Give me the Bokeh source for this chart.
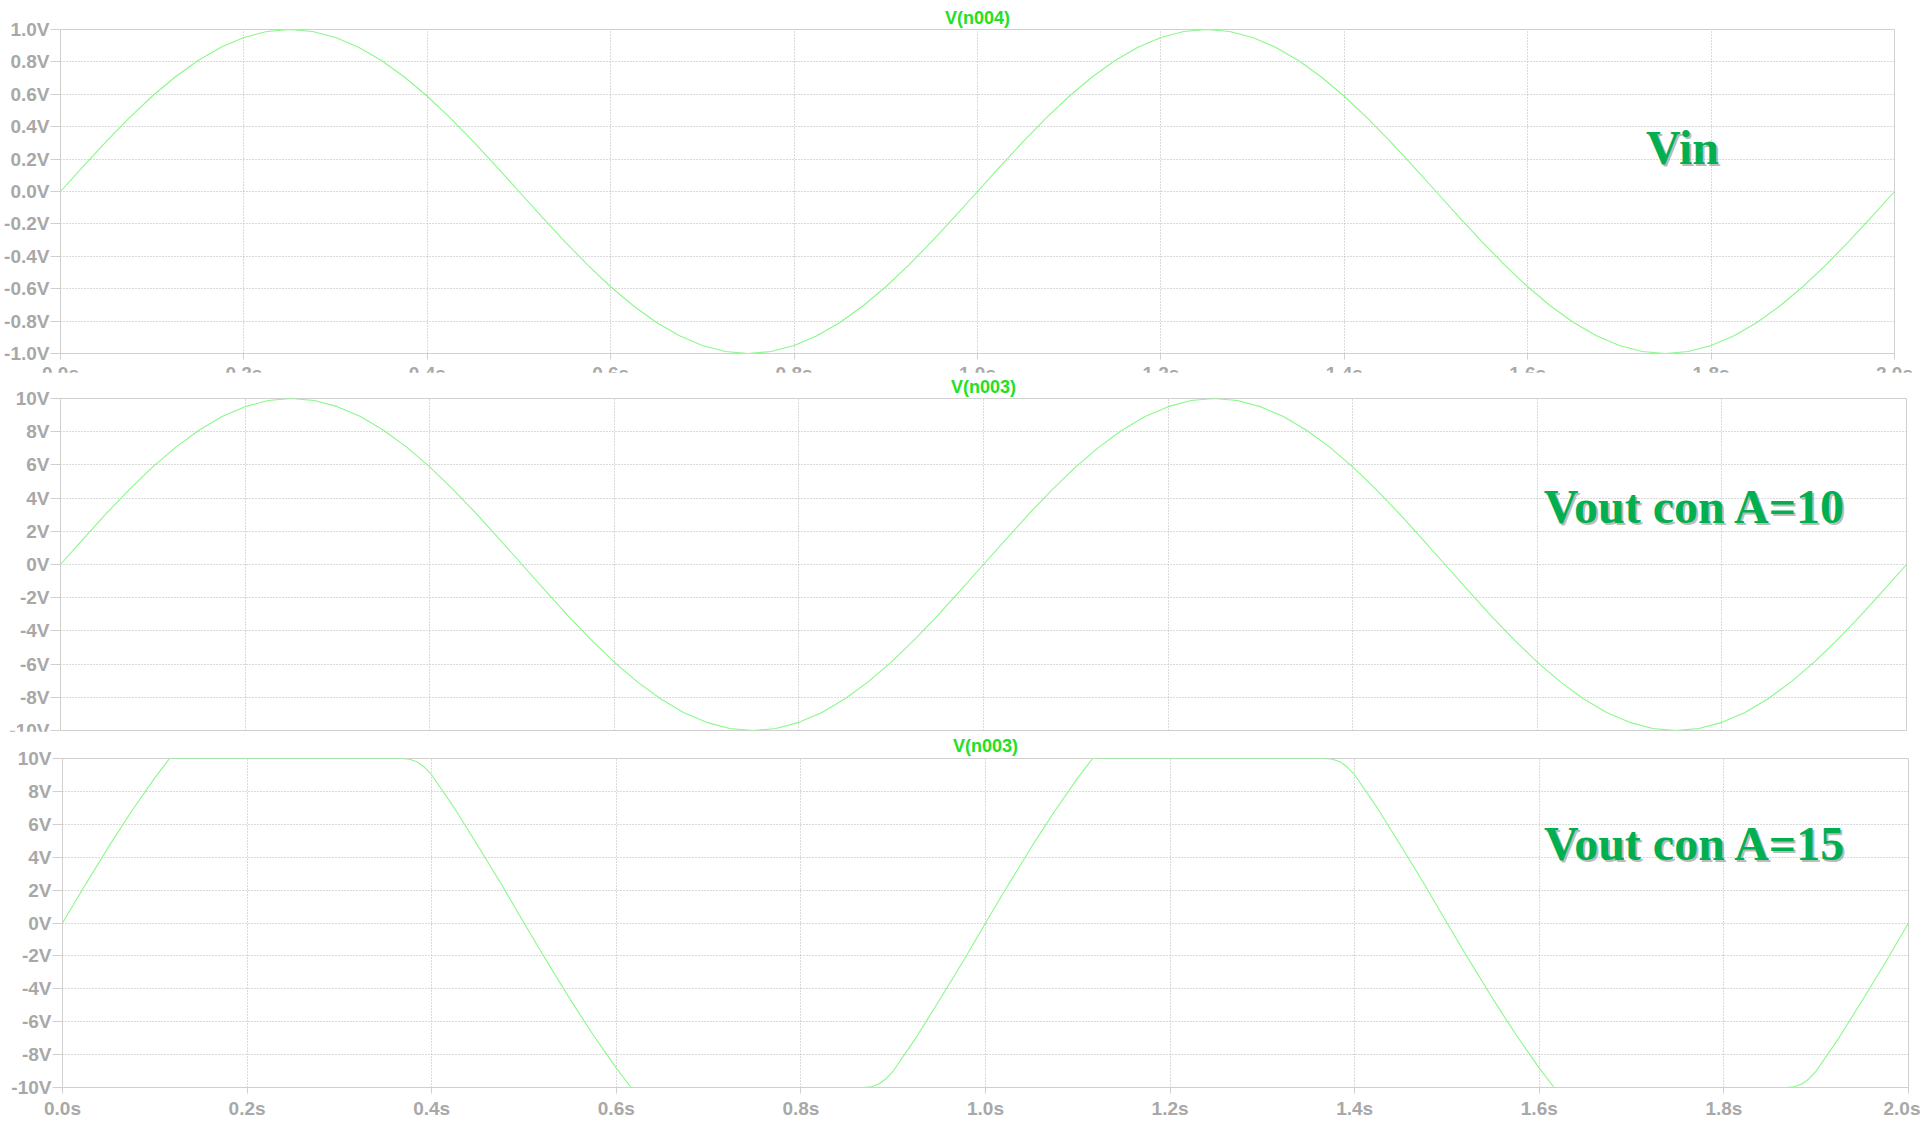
from bokeh.plotting import figure
from bokeh.models import Range1d, FixedTicker, PrintfTickFormatter, Grid, Label
from bokeh.embed import file_html
from bokeh.resources import INLINE

# ---------------- data ----------------
time_s = [round(0.025 * i, 3) for i in range(81)]

vin = [0.000, 0.156, 0.309, 0.454, 0.588, 0.707, 0.809, 0.891, 0.951, 0.988,
       1.000, 0.988, 0.951, 0.891, 0.809, 0.707, 0.588, 0.454, 0.309, 0.156,
       0.000, -0.156, -0.309, -0.454, -0.588, -0.707, -0.809, -0.891, -0.951, -0.988,
       -1.000, -0.988, -0.951, -0.891, -0.809, -0.707, -0.588, -0.454, -0.309, -0.156,
       0.000, 0.156, 0.309, 0.454, 0.588, 0.707, 0.809, 0.891, 0.951, 0.988,
       1.000, 0.988, 0.951, 0.891, 0.809, 0.707, 0.588, 0.454, 0.309, 0.156,
       0.000, -0.156, -0.309, -0.454, -0.588, -0.707, -0.809, -0.891, -0.951, -0.988,
       -1.000, -0.988, -0.951, -0.891, -0.809, -0.707, -0.588, -0.454, -0.309, -0.156,
       0.000]

vout_a10 = [0.00, 1.56, 3.09, 4.54, 5.88, 7.07, 8.09, 8.91, 9.51, 9.88,
            10.00, 9.88, 9.51, 8.91, 8.09, 7.07, 5.88, 4.54, 3.09, 1.56,
            0.00, -1.56, -3.09, -4.54, -5.88, -7.07, -8.09, -8.91, -9.51, -9.88,
            -10.00, -9.88, -9.51, -8.91, -8.09, -7.07, -5.88, -4.54, -3.09, -1.56,
            0.00, 1.56, 3.09, 4.54, 5.88, 7.07, 8.09, 8.91, 9.51, 9.88,
            10.00, 9.88, 9.51, 8.91, 8.09, 7.07, 5.88, 4.54, 3.09, 1.56,
            0.00, -1.56, -3.09, -4.54, -5.88, -7.07, -8.09, -8.91, -9.51, -9.88,
            -10.00, -9.88, -9.51, -8.91, -8.09, -7.07, -5.88, -4.54, -3.09, -1.56,
            0.00]

time_a15 = [0.000, 0.025, 0.050, 0.075, 0.100, 0.116, 0.150, 0.200, 0.250, 0.300,
            0.350, 0.368, 0.376, 0.384, 0.392, 0.400, 0.425, 0.450, 0.475, 0.500,
            0.525, 0.550, 0.575, 0.600, 0.616, 0.650, 0.700, 0.750, 0.800, 0.850,
            0.868, 0.876, 0.884, 0.892, 0.900, 0.925, 0.950, 0.975, 1.000,
            1.025, 1.050, 1.075, 1.100, 1.116, 1.150, 1.200, 1.250, 1.300,
            1.350, 1.368, 1.376, 1.384, 1.392, 1.400, 1.425, 1.450, 1.475, 1.500,
            1.525, 1.550, 1.575, 1.600, 1.616, 1.650, 1.700, 1.750, 1.800, 1.850,
            1.868, 1.876, 1.884, 1.892, 1.900, 1.925, 1.950, 1.975, 2.000]

vout_a15 = [0.00, 2.35, 4.64, 6.81, 8.82, 10.00, 10.00, 10.00, 10.00, 10.00,
            10.00, 10.00, 9.95, 9.80, 9.48, 9.00, 6.95, 4.70, 2.40, 0.00,
            -2.35, -4.64, -6.81, -8.82, -10.00, -10.00, -10.00, -10.00, -10.00, -10.00,
            -10.00, -9.95, -9.80, -9.48, -9.00, -6.95, -4.70, -2.40, 0.00,
            2.35, 4.64, 6.81, 8.82, 10.00, 10.00, 10.00, 10.00, 10.00,
            10.00, 10.00, 9.95, 9.80, 9.48, 9.00, 6.95, 4.70, 2.40, 0.00,
            -2.35, -4.64, -6.81, -8.82, -10.00, -10.00, -10.00, -10.00, -10.00, -10.00,
            -10.00, -9.95, -9.80, -9.48, -9.00, -6.95, -4.70, -2.40, 0.00]

x_ticks = [0.0, 0.2, 0.4, 0.6, 0.8, 1.0, 1.2, 1.4, 1.6, 1.8, 2.0]
vin_ticks = [-1.0, -0.8, -0.6, -0.4, -0.2, 0.0, 0.2, 0.4, 0.6, 0.8, 1.0]
vout_ticks = [-10, -8, -6, -4, -2, 0, 2, 4, 6, 8, 10]

titles = ["V(n004)", "V(n003)", "V(n003)"]
notes = ["Vin", "Vout con A=10", "Vout con A=15"]

# ---------------- style ----------------
TRACE = "#8af88a"
TITLE_C = "#22e022"
NOTE_C = "#00b050"
TICK_C = "#a8a8a8"
FRAME_C = "#d0d0d0"
GRID_C = "#b4b4b4"
SANS = "Liberation Sans"
SERIF = "Liberation Serif"
TICK_SIZE = "19px"


def base_fig(height, y_lo, y_hi, title, x_axis=True, title_standoff=3, **borders):
    kw = dict(width=1920, height=height, x_range=Range1d(0, 2), y_range=Range1d(y_lo, y_hi),
              output_backend="svg", toolbar_location=None, title=title, **borders)
    if not x_axis:
        kw["x_axis_location"] = None
    p = figure(**kw)
    p.outline_line_color = FRAME_C
    p.background_fill_color = "white"
    p.border_fill_color = "white"
    p.title.align = "center"
    p.title.text_font = SANS
    p.title.text_font_style = "bold"
    p.title.text_font_size = "18px"
    p.title.text_color = TITLE_C
    p.title.standoff = title_standoff
    p.title.offset = 0
    return p


def style_y(p, ticks, fmt):
    ax = p.yaxis[0]
    ax.ticker = FixedTicker(ticks=ticks)
    ax.formatter = PrintfTickFormatter(format=fmt)
    ax.major_label_text_font = SANS
    ax.major_label_text_font_style = "bold"
    ax.major_label_text_font_size = TICK_SIZE
    ax.major_label_text_color = TICK_C
    ax.axis_line_color = FRAME_C
    ax.major_tick_line_color = FRAME_C
    ax.major_tick_out = 10
    ax.major_tick_in = 0
    ax.minor_tick_out = 0
    ax.minor_tick_in = 0
    ax.major_label_standoff = 1
    g = p.ygrid[0]
    g.ticker = FixedTicker(ticks=ticks)
    g.grid_line_color = GRID_C
    g.grid_line_dash = "1 2"


def style_xgrid(p):
    grids = list(p.xgrid)
    if not grids:
        g = Grid(dimension=0)
        p.add_layout(g)
        grids = [g]
    for g in grids:
        g.ticker = FixedTicker(ticks=x_ticks)
        g.grid_line_color = GRID_C
        g.grid_line_dash = "1 2"


def style_x(p, standoff):
    ax = p.xaxis[0]
    ax.ticker = FixedTicker(ticks=x_ticks)
    ax.formatter = PrintfTickFormatter(format="%.1fs")
    ax.major_label_text_font = SANS
    ax.major_label_text_font_style = "bold"
    ax.major_label_text_font_size = TICK_SIZE
    ax.major_label_text_color = TICK_C
    ax.axis_line_color = FRAME_C
    ax.major_tick_line_color = FRAME_C
    ax.major_tick_out = 6
    ax.major_tick_in = 0
    ax.minor_tick_out = 0
    ax.minor_tick_in = 0
    ax.major_label_standoff = standoff
    style_xgrid(p)


def note(p, x, y, text):
    p.add_layout(Label(x=x, y=y, text=text, x_offset=2, y_offset=-2,
                       text_font=SERIF, text_font_style="bold", text_font_size="48px",
                       text_color="#808080", text_alpha=0.55))
    p.add_layout(Label(x=x, y=y, text=text,
                       text_font=SERIF, text_font_style="bold", text_font_size="48px",
                       text_color=NOTE_C))


# ---- panel 1 : Vin (its time labels are partly hidden by the next panel) ----
p1 = base_fig(386, -1, 1, titles[0], min_border_left=60, min_border_right=26,
              min_border_top=29, min_border_bottom=20)
style_y(p1, vin_ticks, "%.1fV")
style_x(p1, standoff=3)
p1.line(time_s, vin, line_color=TRACE, line_width=1.1)
note(p1, 1.729, 0.109, notes[0])

# ---- panel 2 : Vout A=10 ----
p2 = base_fig(372, -10, 10, titles[1], x_axis=False, min_border_left=60, min_border_right=14,
              min_border_top=26, min_border_bottom=14)
p2.styles = {"margin-top": "-14px"}
style_y(p2, vout_ticks, "%dV")
style_xgrid(p2)
p2.line(time_s, vout_a10, line_color=TRACE, line_width=1.1)
note(p2, 1.607, 1.9, notes[1])

# ---- panel 3 : Vout A=15 ----
p3 = base_fig(390, -10, 10, titles[2], title_standoff=5, min_border_left=62,
              min_border_right=12, min_border_top=24, min_border_bottom=33)
p3.styles = {"margin-top": "-13px"}
style_y(p3, vout_ticks, "%dV")
style_x(p3, standoff=4)
p3.line(time_a15, vout_a15, line_color=TRACE, line_width=1.1)
note(p3, 1.605, 3.24, notes[2])

open("out.html", "w").write(file_html([p1, p2, p3], INLINE))
